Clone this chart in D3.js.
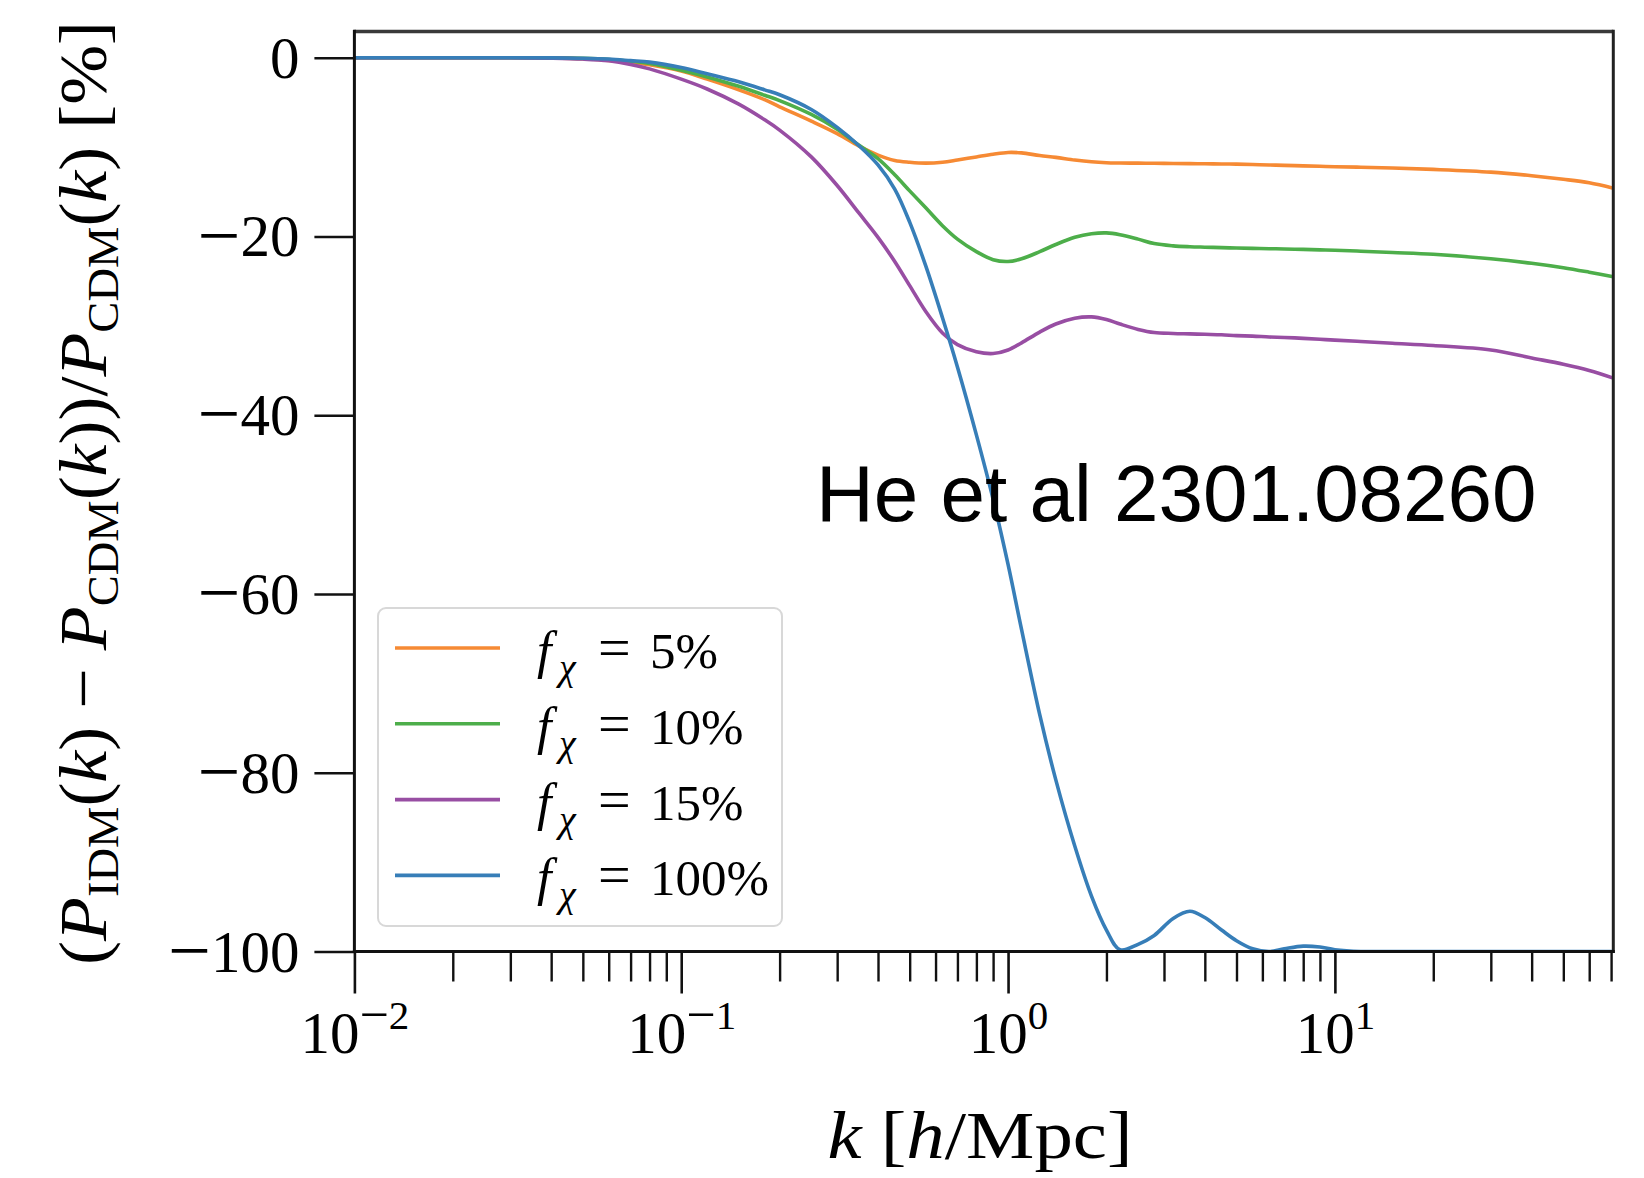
<!DOCTYPE html>
<html>
<head>
<meta charset="utf-8">
<script src="https://cdn.jsdelivr.net/npm/d3@7"></script>
<style>
  body { margin: 0; background: #fff; }
  svg { display: block; }
  .serif { font-family: "Liberation Serif", "Times New Roman", serif; fill: #000; }
</style>
</head>
<body>
<svg id="chart" width="1644" height="1178"></svg>
<script>
// Wavenumber samples k [h/Mpc]
const kValues = [0.01, 0.02, 0.03, 0.04, 0.05, 0.06, 0.07, 0.08,
  0.1, 0.12, 0.15, 0.18, 0.2,
  0.25, 0.3, 0.35, 0.4, 0.45, 0.5,
  0.56, 0.63, 0.7, 0.8, 0.9,
  1.0, 1.1, 1.25, 1.4, 1.6, 1.8,
  2.0, 2.2, 2.5, 2.8, 3.2, 3.6,
  4.0, 4.5, 5.0, 5.6, 6.3, 7.0,
  8, 9, 10, 12, 15, 20,
  30, 40, 50, 60, 71.1];

// Relative power suppression (P_IDM - P_CDM)/P_CDM in percent
const suppressionFx5 = [0, 0, 0, -0.03, -0.12, -0.3, -0.5, -0.8,
  -1.5, -2.4, -3.6, -4.7, -5.5,
  -7.1, -8.5, -9.9, -10.9, -11.5, -11.7,
  -11.8, -11.7, -11.45, -11.1, -10.8,
  -10.6, -10.65, -10.95, -11.15, -11.45, -11.65,
  -11.75, -11.78, -11.8, -11.81, -11.83, -11.85,
  -11.87, -11.89, -11.91, -11.95, -12.0, -12.05,
  -12.1, -12.15, -12.2, -12.25, -12.35, -12.5,
  -12.8, -13.2, -13.6, -14.0, -14.6];

const suppressionFx10 = [0, 0, 0, -0.02, -0.08, -0.2, -0.4, -0.65,
  -1.4, -2.15, -3.2, -4.2, -4.8,
  -6.35, -8.0, -9.8, -11.3, -13.1, -14.9,
  -16.8, -18.8, -20.3, -21.7, -22.6,
  -22.8, -22.5, -21.7, -20.9, -20.1, -19.7,
  -19.6, -19.8, -20.3, -20.8, -21.05, -21.15,
  -21.2, -21.25, -21.3, -21.33, -21.37, -21.4,
  -21.45, -21.5, -21.55, -21.65, -21.8, -22.0,
  -22.5, -23.0, -23.5, -24.0, -24.5];

const suppressionFx15 = [0, 0, 0, -0.05, -0.15, -0.35, -0.75, -1.25,
  -2.4, -3.5, -5.2, -6.95, -8.1,
  -11.1, -14.3, -17.4, -20.1, -22.8, -25.5,
  -28.4, -30.8, -32.1, -32.9, -33.1,
  -32.7, -31.9, -30.7, -29.8, -29.15, -29.0,
  -29.3, -29.8, -30.4, -30.75, -30.85, -30.9,
  -30.95, -31.0, -31.1, -31.15, -31.25, -31.3,
  -31.4, -31.5, -31.6, -31.75, -31.95, -32.2,
  -32.7, -33.6, -34.3, -35.0, -35.85];

const suppressionFx100 = [0, 0, 0, -0.02, -0.06, -0.15, -0.33, -0.5,
  -1.1, -1.8, -2.7, -3.6, -4.15,
  -5.8, -7.8, -9.85, -12.0, -14.7, -18.4,
  -23.3, -29.1, -34.6, -42.2, -49.4,
  -56.7, -64.0, -73.5, -80.8, -88.2, -93.8,
  -97.6, -99.8, -99.2, -98.2, -96.3, -95.5,
  -96.2, -97.6, -98.8, -99.7, -100, -99.7,
  -99.4, -99.5, -99.8, -100, -100, -100,
  -100, -100, -100, -100, -100];

const seriesLabels = ["5%", "10%", "15%", "100%"];
const seriesData = [suppressionFx5, suppressionFx10, suppressionFx15, suppressionFx100];

const yTickValues = [0, -20, -40, -60, -80, -100];
const xMajorTicks = [0.01, 0.1, 1, 10];
const xTickExponents = ["\u22122", "\u22121", "0", "1"];

const annotationText = "He et al 2301.08260";

// ---- layout ----
const plot = { left: 354.4, right: 1613.3, top: 31.5, bottom: 951.5 };
const colors = ["#f68a34", "#4dae4a", "#984ea3", "#377eb8"];
const MINUS = "\u2212";

const svg = d3.select("#chart");

const x = d3.scaleLog().domain([0.01, 71.1]).range([plot.left, plot.right]);
const y = d3.scaleLinear().domain([-100, 2.93]).range([plot.bottom, plot.top]);

svg.append("defs").append("clipPath").attr("id", "plotClip")
  .append("rect")
  .attr("x", plot.left).attr("y", plot.top)
  .attr("width", plot.right - plot.left).attr("height", plot.bottom - plot.top);

// Writes a signed number into a text node; the math minus is drawn wider,
// the way TeX typesets it.
function writeSigned(textSel, str, fontSize) {
  textSel.text(null);
  if (str.startsWith(MINUS)) {
    const drop = fontSize * 0.07;
    textSel.append("tspan").attr("font-size", fontSize * 1.29).attr("dy", drop).text(MINUS);
    textSel.append("tspan").attr("dy", -drop).text(str.slice(1));
  } else {
    textSel.append("tspan").text(str);
  }
}

// ---- curves ----
const line = d3.line()
  .x((d, i) => x(kValues[i]))
  .y(d => y(d))
  .curve(d3.curveCatmullRom.alpha(0.5));

const curves = svg.append("g").attr("clip-path", "url(#plotClip)");
seriesData.forEach((vals, i) => {
  curves.append("path")
    .attr("d", line(vals))
    .attr("fill", "none")
    .attr("stroke", colors[i])
    .attr("stroke-width", 3.6)
    .attr("stroke-linejoin", "round")
    .attr("stroke-linecap", "butt");
});

// ---- y axis ----
const yAxis = d3.axisLeft(y)
  .tickValues(yTickValues)
  .tickSize(40)
  .tickPadding(15)
  .tickFormat(d => d === 0 ? "0" : MINUS + Math.abs(d));

const gy = svg.append("g")
  .attr("transform", `translate(${plot.left},0)`)
  .call(yAxis);
gy.select(".domain").remove();
gy.selectAll(".tick line").attr("stroke", "#111").attr("stroke-width", 2.6);
gy.selectAll(".tick text")
  .attr("class", "serif")
  .attr("font-size", 59)
  .attr("dy", null)
  .attr("y", 19.5)
  .style("font-family", "'Liberation Serif', serif")
  .attr("fill", "#000")
  .each(function (d) {
    const s = d === 0 ? "0" : MINUS + Math.abs(d);
    writeSigned(d3.select(this), s, 59);
  });

// ---- x axis: minor ticks ----
const minorTicks = x.ticks().filter(t => !xMajorTicks.some(m => Math.abs(m - t) < 1e-9));
const gxMinor = svg.append("g")
  .attr("transform", `translate(0,${plot.bottom})`)
  .call(d3.axisBottom(x).tickValues(minorTicks).tickSize(30).tickFormat(""));
gxMinor.select(".domain").remove();
gxMinor.selectAll(".tick line").attr("stroke", "#111").attr("stroke-width", 2.4);

// ---- x axis: major ticks with power-of-ten labels ----
const gx = svg.append("g")
  .attr("transform", `translate(0,${plot.bottom})`)
  .call(d3.axisBottom(x).tickValues(xMajorTicks).tickSize(42).tickFormat(""));
gx.select(".domain").remove();
gx.selectAll(".tick line").attr("stroke", "#111").attr("stroke-width", 2.6);
gx.selectAll(".tick").each(function (d, i) {
  const t = d3.select(this).append("text")
    .attr("class", "serif")
    .attr("text-anchor", "middle")
    .attr("y", 101.5)
    .attr("font-size", 59)
    .style("font-family", "'Liberation Serif', serif");
  t.append("tspan").text("10");
  const e = xTickExponents[i];
  if (e.startsWith(MINUS)) {
    t.append("tspan").attr("dy", -21).attr("font-size", 52).text(MINUS);
    t.append("tspan").attr("dy", -3).attr("font-size", 41).text(e.slice(1));
  } else {
    t.append("tspan").attr("dy", -24).attr("font-size", 41).text(e);
  }
});

// ---- frame ----
const frame = svg.append("g");
frame.append("line").attr("x1", plot.left).attr("x2", plot.right).attr("y1", plot.top).attr("y2", plot.top)
  .attr("stroke", "#3a3a3a").attr("stroke-width", 3.4);
frame.append("line").attr("x1", plot.right).attr("x2", plot.right).attr("y1", plot.top - 1.7).attr("y2", plot.bottom + 1.5)
  .attr("stroke", "#222").attr("stroke-width", 3);
frame.append("line").attr("x1", plot.left).attr("x2", plot.left).attr("y1", plot.top - 1.7).attr("y2", plot.bottom + 1.5)
  .attr("stroke", "#111").attr("stroke-width", 3);
frame.append("line").attr("x1", plot.left - 1.5).attr("x2", plot.right + 1.5).attr("y1", plot.bottom).attr("y2", plot.bottom)
  .attr("stroke", "#111").attr("stroke-width", 3);

// ---- legend ----
const legend = svg.append("g");
legend.append("rect")
  .attr("x", 378).attr("y", 608).attr("width", 404).attr("height", 318)
  .attr("rx", 8).attr("ry", 8)
  .attr("fill", "#fff").attr("fill-opacity", 0.85)
  .attr("stroke", "#d8d8d8").attr("stroke-width", 2);

seriesLabels.forEach((lab, i) => {
  const ly = 648 + i * 75.8;
  legend.append("line")
    .attr("x1", 395).attr("x2", 500).attr("y1", ly).attr("y2", ly)
    .attr("stroke", colors[i]).attr("stroke-width", 3.6);
  const base = ly + 20;
  legend.append("text").attr("class", "serif").attr("x", 537).attr("y", base)
    .attr("font-size", 52).attr("font-style", "italic").text("f");
  legend.append("text").attr("class", "serif").attr("x", 559).attr("y", base + 12)
    .attr("font-size", 38).attr("font-style", "italic").text("\u03C7");
  legend.append("text").attr("class", "serif").attr("x", 598).attr("y", base - 1)
    .attr("font-size", 58).text("=");
  legend.append("text").attr("class", "serif").attr("x", 650).attr("y", base)
    .attr("font-size", 51).text(lab);
});

// ---- annotation ----
svg.append("text")
  .attr("x", 816).attr("y", 521)
  .attr("font-family", "'Liberation Sans', Arial, sans-serif")
  .attr("font-size", 80)
  .attr("fill", "#000")
  .text(annotationText);

// ---- axis titles ----
const xl = svg.append("text").attr("class", "serif")
  .attr("x", 980).attr("y", 1158)
  .attr("text-anchor", "middle")
  .attr("font-size", 68)
  .attr("textLength", 305).attr("lengthAdjust", "spacingAndGlyphs");
xl.append("tspan").attr("font-style", "italic").text("k");
xl.append("tspan").text(" [");
xl.append("tspan").attr("font-style", "italic").text("h");
xl.append("tspan").text("/Mpc]");

const yl = svg.append("text").attr("class", "serif")
  .attr("transform", "translate(106,493) rotate(-90)")
  .attr("text-anchor", "middle")
  .attr("font-size", 68)
  .attr("textLength", 944).attr("lengthAdjust", "spacingAndGlyphs");
function sub(sel, s) {
  sel.append("tspan").attr("dy", 12).attr("font-size", 44).text(s);
  return sel.append("tspan").attr("dy", -12);
}
yl.append("tspan").text("(");
yl.append("tspan").attr("font-style", "italic").text("P");
sub(yl, "IDM").text("(");
yl.append("tspan").attr("font-style", "italic").text("k");
yl.append("tspan").text(")  \u2212  ");
yl.append("tspan").attr("font-style", "italic").text("P");
sub(yl, "CDM").text("(");
yl.append("tspan").attr("font-style", "italic").text("k");
yl.append("tspan").text("))/");
yl.append("tspan").attr("font-style", "italic").text("P");
sub(yl, "CDM").text("(");
yl.append("tspan").attr("font-style", "italic").text("k");
yl.append("tspan").text(") [%]");
</script>
</body>
</html>
